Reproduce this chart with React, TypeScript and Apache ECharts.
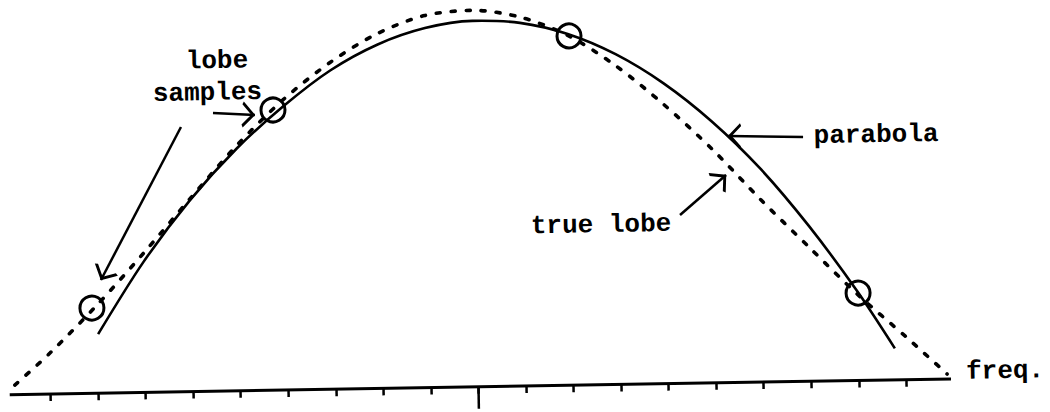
import { useEffect, useRef } from "react";
import * as echarts from "echarts";

// x: frequency bins (tick spacing = 1), y: height above the frequency axis
const tickValues = [0, 1, 2, 3, 4, 5, 6, 7, 8, 9, 10, 11, 12, 13, 14, 15, 16, 17, 18];
const centerTick = [9];

const parabolaPoints: number[][] = [
  [1.02, 59], [2, 130.5], [3, 191.5], [4, 242.3], [5, 284], [6, 319],
  [7, 344], [8, 359.6], [9, 366], [10, 363.2], [11, 351.3], [12, 330.3],
  [13, 300.3], [14, 261.4], [15, 213.6], [16, 155.6], [17, 89.2], [17.77, 31.5],
];

const trueLobePoints: number[][] = [
  [-0.75, 9.5], [0, 40.9], [1, 87.8], [2, 139], [3, 192.8], [4, 245.3],
  [5, 290.6], [6, 327], [7, 354.9], [8, 372.1], [9, 376.5], [10, 369],
  [11, 349.9], [12, 318.7], [13, 279], [14, 233.6], [15, 182.5], [16, 134.2],
  [17, 86.3], [18, 43.2], [18.86, 5],
];

const samplePoints: number[][] = [
  [0.899, 85.2], [4.776, 280.2], [11.027, 349.3], [17.016, 87.4],
];

const axisEnds: number[][] = [[-0.86, 0], [18.94, 0]];

const noteTexts = ["lobe", "samples", "parabola", "true lobe", "freq."];
const notePositions: number[][] = [
  [3.615, 330.1], [3.404, 298.3], [17.45, 245.1], [11.634, 159.7], [20.08, 7.0],
];

const arrowTails: number[][] = [
  [3.513, 278.2], [2.835, 264.7], [15.914, 244.4], [13.299, 168.4],
];
const arrowTips: number[][] = [
  [4.395, 275.5], [1.098, 113.1], [14.337, 246.6], [14.281, 207.6],
];

const FONT = "Liberation Mono";
const INK = "#000";
// open arrow head: tip at centre of the symbol box, pointing "up" (forward)
const CHEVRON =
  "path://M10,0 L10.01,0 L10,0.01 Z M10,10 L16.6,19.4 L15.1,20.4 L10,13.1 L4.9,20.4 L3.4,19.4 Z";

export default function App() {
  const ref = useRef<HTMLDivElement>(null);

  useEffect(() => {
    document.body.style.margin = "0";
    if (!ref.current) return;
    const chart = echarts.init(ref.current, null, { renderer: "svg" });

    const tickAxis = (values: number[], length: number) => ({
      type: "value" as const,
      min: -1,
      max: 21,
      position: "bottom" as const,
      axisLine: { show: false },
      axisTick: {
        show: true,
        customValues: values,
        length,
        lineStyle: { color: INK, width: 2.5 },
      },
      axisLabel: { show: false },
      splitLine: { show: false },
    });

    chart.setOption({
      animation: false,
      backgroundColor: "#fff",
      grid: { left: 0, top: 0, width: 1046, height: 386, containLabel: false },
      xAxis: [tickAxis(tickValues, 7), tickAxis(centerTick, 22)],
      yAxis: {
        type: "value",
        min: 0,
        max: 386,
        show: false,
        splitLine: { show: false },
      },
      series: [
        {
          name: "axis",
          type: "line",
          data: axisEnds,
          symbol: "none",
          clip: false,
          lineStyle: { color: INK, width: 3 },
          markLine: {
            silent: true,
            symbol: ["none", CHEVRON],
            symbolSize: 26,
            label: { show: false },
            lineStyle: { color: INK, width: 2.5, type: "solid", opacity: 1 },
            itemStyle: { color: INK, opacity: 1 },
            data: arrowTails.map((t, i) => [
              { coord: t },
              { coord: arrowTips[i] },
            ]),
          },
        },
        {
          name: "parabola",
          type: "line",
          data: parabolaPoints,
          smooth: 0.3,
          symbol: "none",
          clip: false,
          lineStyle: { color: INK, width: 2.6 },
        },
        {
          name: "true lobe",
          type: "line",
          data: trueLobePoints,
          smooth: 0.3,
          symbol: "none",
          clip: false,
          lineStyle: { color: INK, width: 3.6, type: [4, 11], cap: "round" },
        },
        {
          name: "lobe samples",
          type: "scatter",
          data: samplePoints,
          symbol: "circle",
          symbolSize: 24,
          z: 5,
          itemStyle: {
            color: "rgba(0,0,0,0)",
            borderColor: INK,
            borderWidth: 3,
            opacity: 1,
          },
        },
        {
          name: "notes",
          type: "scatter",
          data: noteTexts.map((t, i) => ({ name: t, value: notePositions[i] })),
          symbolSize: 1,
          itemStyle: { color: "rgba(0,0,0,0)", opacity: 1 },
          label: {
            show: true,
            position: "inside",
            formatter: (p: any) => p.name,
            fontFamily: FONT,
            fontWeight: "bold",
            fontSize: 26,
            color: INK,
            opacity: 1,
            textBorderWidth: 0,
          },
        },
      ],
    });

    return () => chart.dispose();
  }, []);

  return (
    <div
      ref={ref}
      style={{
        position: "absolute",
        left: 0,
        top: 0,
        width: 1050,
        height: 412,
        background: "#fff",
        transform: "rotate(-0.957deg)",
        transformOrigin: "525px 206px",
      }}
    />
  );
}
